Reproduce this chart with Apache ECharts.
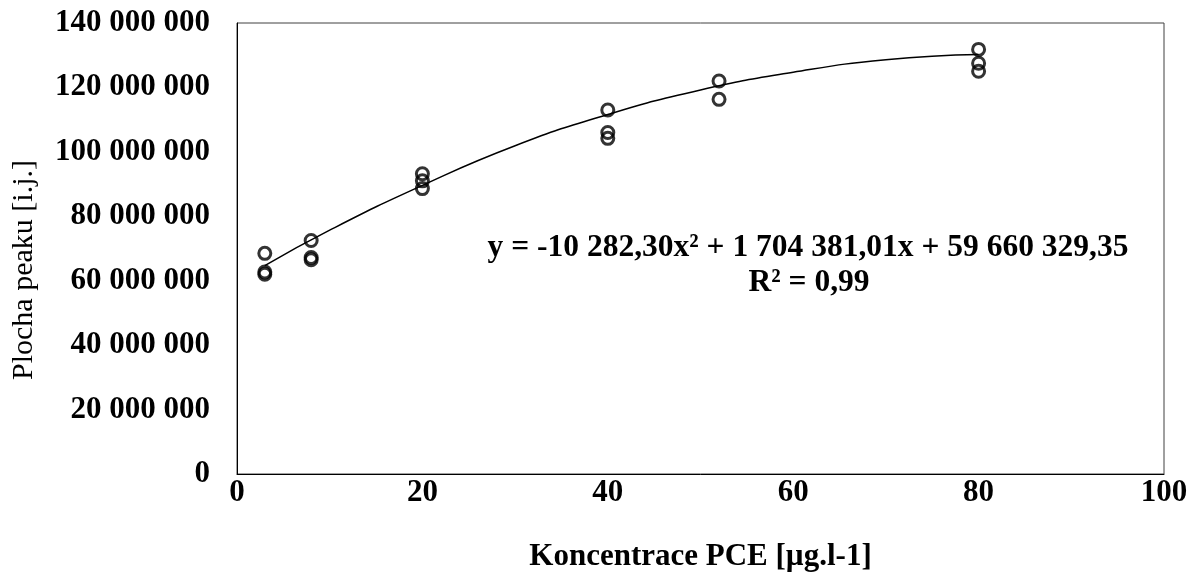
<!DOCTYPE html>
<html>
<head>
<meta charset="utf-8">
<script src="https://cdn.jsdelivr.net/npm/echarts@6/dist/echarts.min.js"></script>
<style>
html,body{margin:0;padding:0;background:#fff;}
#chart{width:1203px;height:579px;}
</style>
</head>
<body>
<div id="chart"></div>
<script>
// Measured points: concentration [µg/l] and peak area
const pointX = [3, 3, 3, 8, 8, 8, 20, 20, 20, 40, 40, 40, 52, 52, 80, 80, 80];
const pointY = [68500000, 62700000, 62000000, 72500000, 67200000, 66500000,
                93200000, 91000000, 88600000, 113000000, 106000000, 104200000,
                122000000, 116300000, 131800000, 127500000, 125000000];
// Polynomial trendline values
const trendX = [3, 10, 20, 30, 40, 50, 60, 70, 80];
const trendY = [64700000, 75700000, 89600000, 101900000, 111600000, 119200000, 124700000, 128600000, 130200000];
const yTicks = [0, 20000000, 40000000, 60000000, 80000000, 100000000, 120000000, 140000000];
const xTicks = [0, 20, 40, 60, 80, 100];
const equationText = 'y = -10 282,30x² + 1 704 381,01x + 59 660 329,35';
const r2Text = 'R² = 0,99';
const xTitle = 'Koncentrace PCE [µg.l-1]';
const yTitle = 'Plocha peaku [i.j.]';

const font = '"Liberation Serif", "Times New Roman", serif';
const chart = echarts.init(document.getElementById('chart'));

function fmt(v){
  return String(Math.round(v)).replace(/\B(?=(\d{3})+(?!\d))/g, ' ');
}

chart.setOption({
  animation: false,
  grid: {left: 237, right: 39, top: 23, bottom: 105, show: true, borderColor: '#404040', borderWidth: 1,
         containLabel: false, outerBoundsMode: 'none'},
  xAxis: {
    type: 'value', min: xTicks[0], max: xTicks[xTicks.length-1], interval: 20,
    axisLine: {show: true, lineStyle: {color: '#000', width: 1}},
    axisTick: {show: false}, splitLine: {show: false},
    axisLabel: {color: '#000', fontFamily: font, fontWeight: 'bold', fontSize: 31, margin: 3},
    name: xTitle, nameLocation: 'middle', nameGap: 67,
    nameTextStyle: {color: '#000', fontFamily: font, fontWeight: 'bold', fontSize: 31}
  },
  yAxis: {
    type: 'value', min: yTicks[0], max: yTicks[yTicks.length-1], interval: 20000000,
    axisLine: {show: true, lineStyle: {color: '#000', width: 1}},
    axisTick: {show: false}, splitLine: {show: false},
    axisLabel: {color: '#000', fontFamily: font, fontWeight: 'bold', fontSize: 31, margin: 27, formatter: fmt}
  },
  series: [
    {
      type: 'line', data: trendX.map((x,i)=>[x, trendY[i]]), smooth: true, showSymbol: false,
      lineStyle: {color: '#000', width: 1.5}, z: 2
    },
    {
      type: 'scatter', data: pointX.map((x,i)=>[x, pointY[i]]), symbol: 'circle', symbolSize: 12,
      itemStyle: {color: 'rgba(0,0,0,0)', borderColor: '#000', borderWidth: 3}, z: 3
    }
  ],
  graphic: [
    {type: 'text', x: 808, y: 248, style: {text: equationText, fill: '#000', font: 'bold 31.5px ' + font, align: 'center', verticalAlign: 'middle'}},
    {type: 'text', x: 809, y: 283, style: {text: r2Text, fill: '#000', font: 'bold 31.5px ' + font, align: 'center', verticalAlign: 'middle'}},
    {type: 'text', x: 24, y: 270, rotation: Math.PI/2, style: {text: yTitle, fill: '#000', font: '30px ' + font, align: 'center', verticalAlign: 'middle'}}
  ]
});
</script>
</body>
</html>
